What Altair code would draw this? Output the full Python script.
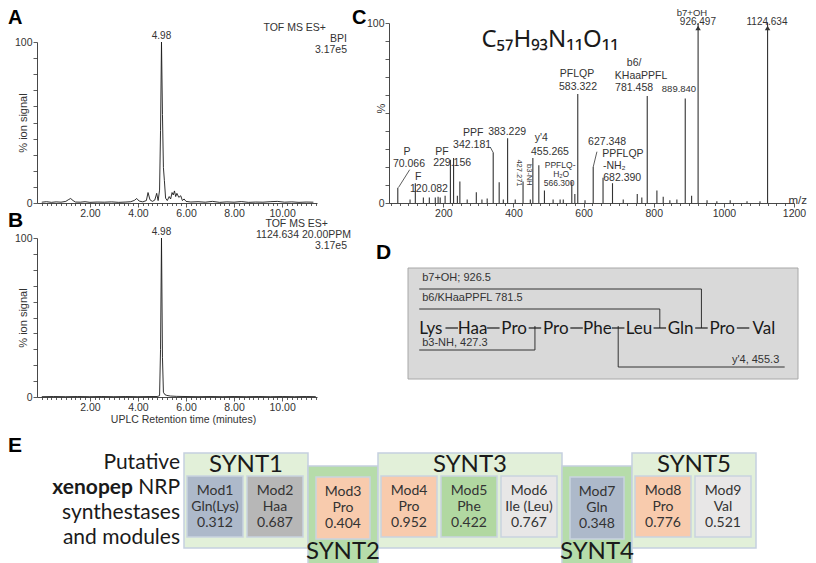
import altair as alt
import pandas as pd

# ---------------- data ----------------
# Panel A: base peak intensity (BPI) chromatogram
rt_a = [0.0, 0.2, 0.4, 0.6, 0.8, 1.0, 1.1, 1.2, 1.3, 1.4, 1.6, 1.8, 2.0, 2.3, 2.6, 2.9, 3.2, 3.5,
        3.7, 3.85, 3.95, 4.05, 4.2, 4.35, 4.42, 4.5, 4.6, 4.7, 4.78, 4.84, 4.9, 4.94, 4.98, 5.02,
        5.06, 5.1, 5.15, 5.22, 5.3, 5.36, 5.42, 5.47, 5.52, 5.57, 5.62, 5.7, 5.78, 5.85, 5.92,
        6.0, 6.2, 6.5, 6.8, 7.1, 7.4, 7.7, 8.0, 8.3, 8.6, 8.9, 9.2, 9.5, 9.8, 10.1, 10.4, 10.7,
        11.0, 11.3]
sig_a = [0.5, 0.8, 0.4, 0.7, 0.5, 1.0, 2.0, 2.8, 1.5, 0.6, 0.5, 0.8, 0.4, 0.6, 0.5, 0.7, 0.4, 0.6,
         0.8, 1.6, 2.8, 1.2, 0.7, 1.5, 6.5, 2.0, 1.0, 1.8, 6.0, 1.5, 8.0, 45.0, 100.0, 55.0,
         22.0, 14.0, 3.0, 1.5, 4.0, 2.5, 6.5, 5.0, 7.5, 4.0, 6.0, 3.5, 4.5, 1.5, 2.5,
         1.0, 0.6, 0.8, 0.5, 1.0, 0.4, 0.7, 0.5, 0.9, 0.4, 0.6, 0.5, 0.8, 1.0, 0.5, 0.7, 0.4,
         0.6, 0.5]
# Panel B: extracted ion chromatogram 1124.634 (20 ppm)
rt_b = [0.0, 0.5, 1.0, 1.5, 2.0, 2.5, 3.0, 3.5, 4.0, 4.5, 4.8, 4.9, 4.94, 4.98, 5.02, 5.06, 5.12,
        5.2, 5.35, 5.6, 6.0, 6.5, 7.0, 7.5, 8.0, 8.5, 9.0, 9.5, 10.0, 10.5, 11.0, 11.4]
sig_b = [0.2, 0.3, 0.2, 0.3, 0.2, 0.3, 0.2, 0.3, 0.2, 0.3, 0.3, 0.8, 30.0, 100.0, 25.0, 3.0, 1.5,
         1.0, 0.6, 0.4, 0.3, 0.2, 0.3, 0.2, 0.3, 0.2, 0.3, 0.2, 0.3, 0.2, 0.3, 0.2]
apex_rt = [4.98]
apex_sig = [100.0]

# Panel C: MS/MS spectrum
mz = [70.07, 105, 120.08, 143, 160, 177, 185, 191, 205, 220.1, 229.16, 240, 247.1, 268, 294,
      310, 325, 342.18, 359.2, 371, 383.23, 405, 427.27, 448, 455.27, 472.3, 488.3, 513, 533,
      542, 566.30, 575, 583.32, 604, 627.35, 655.4, 682.39, 713, 753, 766, 781.46, 809, 827,
      846, 866, 889.84, 908, 926.50, 952, 980, 1018, 1066, 1103, 1124.63]
rel_int = [8.5, 2, 11, 3, 3, 3, 3.5, 3, 4, 24, 25, 4, 12, 2, 6,
           2, 2.5, 28, 11.5, 2, 36, 2, 12, 2, 25, 21, 7, 2, 2,
           2, 12, 5, 60.5, 1.5, 20, 14, 11, 2, 5, 3, 59.5, 7, 3.5,
           1.5, 2, 58, 4, 100, 1.5, 1, 1.5, 1, 1, 100]
offscale_mz = [926.50, 1124.63]
offscale_pct = [100, 100]

ion_text = ["P", "70.066", "F", "120.082", "PF", "229.156", "PPF", "342.181", "383.229",
            "y'4", "455.265", "PFLQP", "583.322", "627.348", "PPFLQP", "682.390",
            "b6/", "KHaaPPFL", "781.458"]
ion_mz = [96, 102, 128, 159, 196, 225, 285, 282, 382, 479, 504, 581, 584, 667, 712, 710,
          744, 764, 744]
ion_pct = [28.3, 21.7, 14.4, 7.8, 28.3, 22.2, 38.9, 32.2, 39.4, 36.1, 28.3, 71.7, 64.4, 33.9,
           27.2, 13.9, 77.8, 70.6, 63.9]
clip_text = ["926.497", "1124.634"]
clip_mz = [926, 1123]
clip_pct = [100.3, 100.3]
top_text = ["b7+OH"]
top_mz = [909]
top_pct = [105.8]
tiny_text = ["PPFLQ-", "H\u2082O", "566.300"]
tiny_mz = [533, 536, 530]
tiny_pct = [21.1, 16.1, 11.1]
mid_text = ["889.840"]
mid_mz = [872]
mid_pct = [63.3]
nh2_text = ["-NH\u2082"]
nh2_mz = [655]
nh2_pct = [20.6]
rot_text = ["427.271", "b3-NH"]
rot_mz = [416, 444]
rot_pct = [16.7, 15.6]
leader_mz = [72, 627.35, 334]
leader_pct = [8.6, 20, 31]
leader_mz2 = [104, 638, 342.18]
leader_pct2 = [18.5, 28.5, 28]

# Panel D: peptide sequence and fragments
sequence = ["Lys", "Haa", "Pro", "Pro", "Phe", "Leu", "Gln", "Pro", "Val"]
frag_label = ["b7+OH; 926.5", "b6/KHaaPPFL 781.5", "b3-NH, 427.3", "y'4, 455.3"]
frag_cut = [6.5, 5.5, 2.5, 4.5]
frag_side = ["above", "above", "below", "below"]
frag_row = [2, 1, 1, 2]
frag_from_n = [True, True, True, False]

# Panel E: synthetases and modules
synthetases = ["SYNT1", "SYNT2", "SYNT3", "SYNT4", "SYNT5"]
modules_per_synt = [2, 1, 3, 1, 2]
module_name = ["Mod1", "Mod2", "Mod3", "Mod4", "Mod5", "Mod6", "Mod7", "Mod8", "Mod9"]
module_substrate = ["Gln(Lys)", "Haa", "Pro", "Pro", "Phe", "Ile (Leu)", "Gln", "Pro", "Val"]
module_score = [0.312, 0.687, 0.404, 0.952, 0.422, 0.767, 0.348, 0.776, 0.521]
substrate_class = ["Gln", "Haa", "Pro", "Phe", "Ile", "Val"]
substrate_color = ["#adb9ca", "#b7b7b7", "#f8cbad", "#b1d8a1", "#e8e7e7", "#e8e7e7"]

# ---------------- styling / helpers ----------------
W, H = 800, 555
ARIAL = "Liberation Sans"
SANS = "Lato"
INK = "#333333"
DARK = "#1a1a1a"


def px(v):
    return v - 8


ONE = pd.DataFrame({"k": [0]})


def note(text, x, y, size=10.5, font=ARIAL, weight="normal", align="center",
         baseline="middle", angle=0, color=INK):
    return alt.Chart(ONE).mark_text(
        text=text, fontSize=size, font=font, fontWeight=weight, align=align,
        baseline=baseline, angle=angle, color=color
    ).encode(x=alt.value(px(x)), y=alt.value(px(y)))


def num_axis(orient, offset, values, major_test, label_test, fmt, major=4, minor=2.5, **kw):
    return alt.Axis(
        orient=orient, offset=offset, values=values,
        labelExpr=f"({label_test}) ? format(datum.value, '{fmt}') : ''",
        tickSize={"condition": {"test": major_test, "value": major}, "value": minor},
        grid=False, domainColor=INK, tickColor=INK, labelColor=INK,
        labelFont=ARIAL, labelFontSize=10.5, labelFlush=False, labelOverlap=False,
        labelPadding=1, tickWidth=0.8, domainWidth=0.9, **kw)


time_ticks = [round(0.2 * i, 1) for i in range(58)]
time_major = "abs(datum.value/2 - round(datum.value/2)) < 0.001 && datum.value > 0.1"
pct_ticks = list(range(0, 101, 10))
pct_major = "datum.value % 50 == 0"
pct_label = "datum.value == 0 || datum.value == 100"
ytitle = dict(titleFont=ARIAL, titleFontSize=11, titleFontWeight="normal", titleColor=INK,
              titleAngle=270, titleAlign="center", titleBaseline="middle")


def chromatogram(rt, sig, top, bottom, xtitle):
    xs = alt.Scale(domain=[-0.2, 11.45], range=[px(37), px(317)], nice=False, zero=False)
    ys = alt.Scale(domain=[0, 100], range=[px(bottom), px(top)], nice=False, zero=False)
    xkw = dict(title=None)
    if xtitle:
        xkw = dict(title=xtitle, titleX=px(183), titleY=22, titleFont=ARIAL,
                   titleFontSize=10.5, titleFontWeight="normal", titleColor=INK,
                   titleAlign="center", titleBaseline="middle")
    xa = num_axis("bottom", px(bottom) - H, time_ticks, time_major, time_major, ".2f", **xkw)
    ya = num_axis("left", -px(37), pct_ticks, pct_major, pct_label, "d", major=4, minor=4,
                  title="% ion signal", titleX=-14, titleY=px((top + bottom) / 2), **ytitle)
    df = pd.DataFrame({"rt": rt, "sig": sig})
    line = alt.Chart(df).mark_line(color=DARK, strokeWidth=0.9).encode(
        x=alt.X("rt:Q", scale=xs, axis=xa), y=alt.Y("sig:Q", scale=ys, axis=ya))
    apex = alt.Chart(pd.DataFrame({"rt": apex_rt, "sig": apex_sig})).mark_text(
        font=ARIAL, fontSize=10, color=INK, baseline="bottom", dy=-1).encode(
        x=alt.X("rt:Q", scale=xs, axis=xa), y=alt.Y("sig:Q", scale=ys, axis=ya),
        text=alt.Text("rt:Q", format=".2f"))
    return alt.layer(line, apex)


panelA = chromatogram(rt_a, sig_a, 42, 203, None)
panelB = chromatogram(rt_b, sig_b, 238, 397, "UPLC Retention time (minutes)")

# ---------------- panel C ----------------
xC = alt.Scale(domain=[45, 1200], range=[px(389), px(794)], nice=False, zero=False)
yC = alt.Scale(domain=[0, 100], range=[px(203), px(23)], nice=False, zero=False)
axCx = num_axis("bottom", px(203) - H, list(range(50, 1201, 25)), "datum.value % 200 == 0",
                "datum.value % 200 == 0", "d", title=None)
axCy = num_axis("left", -px(389), pct_ticks, pct_major, pct_label, "d", major=4, minor=4,
                title="%", titleX=-8, titleY=px(108), **ytitle)


def XC(f):
    return alt.X(f, type="quantitative", scale=xC, axis=axCx)


def YC(f):
    return alt.Y(f, type="quantitative", scale=yC, axis=axCy)


dfC = pd.DataFrame({"mz": mz, "pct": rel_int})
dfC["base"] = 0
peaks = alt.Chart(dfC).mark_rule(color="#333333", strokeWidth=1.1).encode(
    x=XC("mz"), y=YC("pct"), y2=alt.Y2("base"))
arrows = alt.Chart(pd.DataFrame({"mz": offscale_mz, "pct": offscale_pct})).mark_point(
    shape="triangle-up", filled=True, size=30, color="#333333", opacity=1, yOffset=5).encode(
    x=XC("mz"), y=YC("pct"))


def ion_labels(texts, mzs, pcts, size, align="center", angle=0):
    d = pd.DataFrame({"text": texts, "mz": mzs, "pct": pcts})
    return alt.Chart(d).mark_text(font=ARIAL, fontSize=size, color=INK, align=align,
                                  baseline="middle", angle=angle).encode(
        x=XC("mz"), y=YC("pct"), text="text:N")


leaders = alt.Chart(pd.DataFrame({"mz": leader_mz, "pct": leader_pct, "mz2": leader_mz2,
                                  "pct2": leader_pct2})).mark_rule(
    color="#333333", strokeWidth=0.8).encode(
    x=XC("mz"), y=YC("pct"), x2=alt.X2("mz2"), y2=alt.Y2("pct2"))

panelC = alt.layer(
    peaks, arrows, leaders,
    ion_labels(ion_text, ion_mz, ion_pct, 10.5),
    ion_labels(clip_text, clip_mz, clip_pct, 10),
    ion_labels(top_text, top_mz, top_pct, 9.5),
    ion_labels(tiny_text, tiny_mz, tiny_pct, 8.5),
    ion_labels(mid_text, mid_mz, mid_pct, 9.5),
    ion_labels(nh2_text, nh2_mz, nh2_pct, 10.5, align="left"),
    ion_labels(rot_text, rot_mz, rot_pct, 7.5, angle=90),
)

# ---------------- panel D ----------------
xD = alt.Scale(domain=[-0.55, 8.82], range=[px(408), px(798)], nice=False, zero=False)
yD = alt.Scale(domain=[-60, 51], range=[px(268), px(379)], nice=False, zero=False)


def XD(f):
    return alt.X(f, type="quantitative", scale=xD, axis=None)


def YD(f):
    return alt.Y(f, type="quantitative", scale=yD, axis=None)


box = alt.Chart(ONE).mark_rect(fill="#d9d9d9", stroke="#a8a8a8", strokeWidth=1).encode(
    x=alt.value(px(408)), x2=alt.value(px(798)), y=alt.value(px(268)), y2=alt.value(px(379)))
dfSeq = pd.DataFrame({"i": list(range(len(sequence))), "res": sequence})
dfSeq["lvl"] = 1
residues = alt.Chart(dfSeq).mark_text(font=SANS, fontSize=17, color=DARK).encode(
    x=XD("i"), y=YD("lvl"), text="res:N")
dfDash = pd.DataFrame({"x": [i + 0.5 - 0.15 for i in range(len(sequence) - 1)],
                       "x2": [i + 0.5 + 0.15 for i in range(len(sequence) - 1)]})
dfDash["lvl"] = 0
dashes = alt.Chart(dfDash).mark_rule(color=DARK, strokeWidth=1.2).encode(
    x=XD("x"), x2=alt.X2("x2"), y=YD("lvl"))

fr = []
for lab, cut, side, row, nterm in zip(frag_label, frag_cut, frag_side, frag_row, frag_from_n):
    lvl = -(20 * row - 1) if side == "above" else 5 + 17 * row
    lab_lvl = lvl - 11 if side == "above" else lvl - 7
    x0, x1 = (-0.28, cut) if nterm else (cut, 8.5)
    fr.append({"label": lab, "cut": cut, "lvl": lvl, "lab_lvl": lab_lvl, "x0": x0, "x1": x1,
               "end": 0 if side == "above" else -2,
               "lx": -0.21 if nterm else 8.37, "align": "left" if nterm else "right"})
dfFr = pd.DataFrame(fr)
hlines = alt.Chart(dfFr).mark_rule(color=INK, strokeWidth=1).encode(
    x=XD("x0"), x2=alt.X2("x1"), y=YD("lvl"))
vlines = alt.Chart(dfFr).mark_rule(color=INK, strokeWidth=1).encode(
    x=XD("cut"), y=YD("lvl"), y2=alt.Y2("end"))
frag_left = alt.Chart(dfFr[dfFr["align"] == "left"]).mark_text(
    font=ARIAL, fontSize=11, color=INK, align="left").encode(
    x=XD("lx"), y=YD("lab_lvl"), text="label:N")
frag_right = alt.Chart(dfFr[dfFr["align"] == "right"]).mark_text(
    font=ARIAL, fontSize=11, color=INK, align="right").encode(
    x=XD("lx"), y=YD("lab_lvl"), text="label:N")
panelD = alt.layer(box, hlines, vlines, dashes, residues, frag_left, frag_right)

# ---------------- panel E ----------------
xE = alt.Scale(domain=[8, 808], range=[0, 800], nice=False, zero=False)
yE = alt.Scale(domain=[8, 563], range=[0, 555], nice=False, zero=False)


def XE(f):
    return alt.X(f, type="quantitative", scale=xE, axis=None)


def YE(f):
    return alt.Y(f, type="quantitative", scale=yE, axis=None)


synt_rows, mod_rows = [], []
cursor = 184.0
k = 0
for name, n in zip(synthetases, modules_per_synt):
    if n == 1:
        w, y0, y1, ly, kind = 70.0, 466, 578, 552, "single"
        lefts, my0, my1, mw = [cursor + 8], 477, 539, 54
    else:
        w = 8 + n * 56 + (n - 1) * 4
        y0, y1, ly, kind = 453, 548, 465, "multi"
        lefts, my0, my1, mw = [cursor + 3 + j * 60 for j in range(n)], 476, 537, 56
    synt_rows.append({"name": name, "x": cursor, "x2": cursor + w, "y": y0, "y2": y1,
                      "kind": kind, "lx": cursor + w / 2, "ly": ly})
    for left in lefts:
        sub = module_substrate[k]
        mod_rows.append({"name": module_name[k], "sub": sub, "score": f"{module_score[k]:.3f}",
                         "cls": sub[:3], "x": left, "x2": left + mw, "y": my0, "y2": my1,
                         "cx": left + mw / 2, "cy": (my0 + my1) / 2})
        k += 1
    cursor += w
dfSynt = pd.DataFrame(synt_rows)
dfMod = pd.DataFrame(mod_rows)

synt_boxes = alt.Chart(dfSynt).mark_rect(stroke="#c5d0df", strokeWidth=1.5).encode(
    x=XE("x"), x2=alt.X2("x2"), y=YE("y"), y2=alt.Y2("y2"),
    color=alt.Color("kind:N", scale=alt.Scale(domain=["multi", "single"],
                                              range=["#e2f0d9", "#b6dcaa"]), legend=None))
synt_text = alt.Chart(dfSynt).mark_text(font=SANS, fontSize=24, color=DARK).encode(
    x=XE("lx"), y=YE("ly"), text="name:N")
mod_boxes = alt.Chart(dfMod).mark_rect(stroke="#c9d3e0", strokeWidth=1.5).encode(
    x=XE("x"), x2=alt.X2("x2"), y=YE("y"), y2=alt.Y2("y2"),
    color=alt.Color("cls:N", scale=alt.Scale(domain=substrate_class, range=substrate_color),
                    legend=None))
mod_texts = [alt.Chart(dfMod).mark_text(font=SANS, fontSize=14, color=INK, dy=dy).encode(
    x=XE("cx"), y=YE("cy"), text=f"{field}:N")
    for field, dy in (("name", -16), ("sub", 0), ("score", 16))]
panelE = alt.layer(synt_boxes, mod_boxes, synt_text, *mod_texts).resolve_scale(
    color="independent")

# ---------------- static annotations ----------------
notes = [
    note("A", 8, 18, size=20, weight="bold", align="left", color="#000"),
    note("B", 8, 221, size=21, weight="bold", align="left", color="#000"),
    note("C", 352, 18, size=20, weight="bold", align="left", color="#000"),
    note("D", 376, 253, size=21, weight="bold", align="left", color="#000"),
    note("E", 8, 446, size=21, weight="bold", align="left", color="#000"),
    note("TOF MS ES+", 326, 28, align="right"),
    note("BPI", 347, 39, align="right"),
    note("3.17e5", 347, 50, align="right"),
    note("TOF MS ES+", 328, 224, align="right"),
    note("1124.634 20.00PPM", 351, 235, align="right"),
    note("3.17e5", 347, 246, align="right"),
    note("m/z", 807, 201, size=11.5, align="right"),
    note("C\u2085\u2087H\u2089\u2083N\u2081\u2081O\u2081\u2081", 550, 47, size=24,
         font="Noto Sans", baseline="alphabetic", color=DARK),
    note("Putative", 180, 469, size=21, font=SANS, align="right", baseline="alphabetic",
         color=DARK),
    note("xenopep", 133, 494, size=21, font=SANS, weight="bold", align="right",
         baseline="alphabetic", color=DARK),
    note("NRP", 180, 494, size=21, font=SANS, align="right", baseline="alphabetic",
         color=DARK),
    note("synthestases", 180, 519, size=21, font=SANS, align="right", baseline="alphabetic",
         color=DARK),
    note("and modules", 180, 544, size=21, font=SANS, align="right", baseline="alphabetic",
         color=DARK),
]

chart = alt.layer(panelA, panelB, panelC, panelD, panelE, *notes).resolve_scale(
    x="independent", y="independent", color="independent"
).properties(
    width=W, height=H, padding=0, background="white",
    autosize=alt.AutoSizeParams(type="none")
).configure_view(strokeWidth=0)

chart.save("out.html", embed_options={"renderer": "svg", "actions": False})
